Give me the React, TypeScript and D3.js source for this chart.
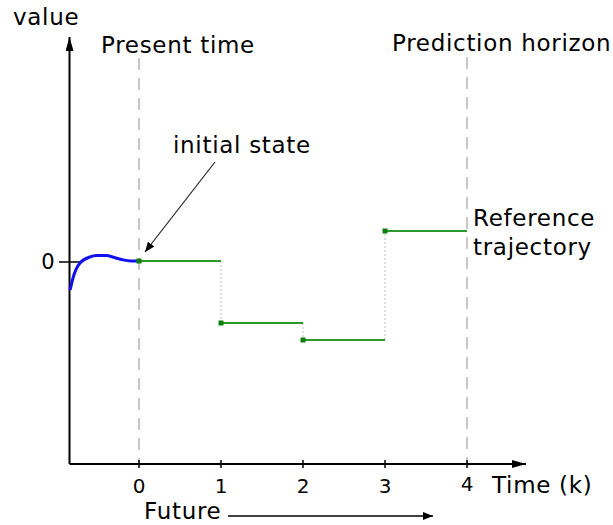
import React from "react";
import * as d3 from "d3";

const W = 613;
const H = 525;

// Time ticks (k)
const timeTicks = [0, 1, 2, 3, 4];
// Reference trajectory (piecewise constant, one value per step k..k+1)
const refSteps = [0, 1, 2, 3];
const refValues = [0, -0.62, -0.79, 0.3];
// Past output (blue) sampled points: time k, value
const pastTimes = [-0.84, -0.805, -0.72, -0.6, -0.52, -0.4, -0.3, -0.2, -0.1, 0];
const pastValues = [-0.29, -0.17, -0.02, 0.04, 0.055, 0.055, 0.035, 0.012, 0.0, 0];

const FONT = "'DejaVu Sans', Verdana, sans-serif";

export default function App() {
  const x = d3.scaleLinear().domain([0, 4]).range([139, 467]);
  const y = d3.scaleLinear().domain([0, 1]).range([261, 161]);

  const x0 = 69.5; // y axis position
  const yAxisTop = 37;
  const xAxisY = 464;
  const xAxisEnd = 526;

  const pastLine = d3
    .line<number>()
    .x((_, i) => x(pastTimes[i]))
    .y((_, i) => y(pastValues[i]))
    .curve(d3.curveMonotoneX);

  const green = "#2b982b";
  const gridGray = "#c8c8c8";
  const ls = 0.7;

  return (
    <svg width={W} height={H} style={{ position: "absolute", left: 0, top: 0 }} fontFamily={FONT}>
      <defs>
        <marker id="arrowBig" viewBox="0 0 14 8" refX="14" refY="4" markerWidth="14" markerHeight="8" markerUnits="userSpaceOnUse" orient="auto">
          <path d="M0,0 L14,4 L0,8 Z" fill="#000" />
        </marker>
        <marker id="arrowSmall" viewBox="0 0 10 8" refX="10" refY="4" markerWidth="10" markerHeight="8" markerUnits="userSpaceOnUse" orient="auto">
          <path d="M0,0 L10,4 L0,8 Z" fill="#000" />
        </marker>
      </defs>
      <rect width={W} height={H} fill="#fff" />

      {/* dashed vertical lines: present time and prediction horizon */}
      <line x1={x(0)} x2={x(0)} y1={58} y2={xAxisY} stroke={gridGray} strokeWidth={2} strokeDasharray="12,8" />
      <line x1={x(4)} x2={x(4)} y1={57} y2={xAxisY} stroke={gridGray} strokeWidth={2} strokeDasharray="12,8" />

      {/* axes */}
      <line x1={x0} x2={x0} y1={xAxisY} y2={yAxisTop} stroke="#000" strokeWidth={2} markerEnd="url(#arrowBig)" />
      <line x1={x0} x2={xAxisEnd} y1={xAxisY} y2={xAxisY} stroke="#000" strokeWidth={2} markerEnd="url(#arrowBig)" />

      {/* y tick at 0 */}
      <line x1={59} x2={80} y1={y(0) + 1} y2={y(0) + 1} stroke="#000" strokeWidth={1.5} />
      <text x={48} y={y(0) + 1} fontSize={21} textAnchor="middle" dominantBaseline="central">0</text>

      {/* x ticks */}
      {timeTicks.map((t) => (
        <g key={t}>
          <line x1={x(t)} x2={x(t)} y1={xAxisY - 4} y2={xAxisY + 4} stroke="#000" strokeWidth={1.5} />
          <text x={x(t)} y={t === 4 ? 491 : 493} fontSize={20} textAnchor="middle">{t}</text>
        </g>
      ))}

      {/* dotted vertical connectors */}
      {refSteps.slice(1).map((k, i) => (
        <line key={k} x1={x(k)} x2={x(k)} y1={y(refValues[i])} y2={y(refValues[i + 1])} stroke="#bbb" strokeWidth={1} strokeDasharray="2,2" />
      ))}

      {/* reference trajectory */}
      {refSteps.map((k, i) => (
        <line key={k} x1={x(k)} x2={x(k + 1)} y1={y(refValues[i])} y2={y(refValues[i])} stroke={green} strokeWidth={2} />
      ))}

      {/* past output */}
      <path d={pastLine(pastTimes) || ""} fill="none" stroke="#1010f0" strokeWidth={3} />

      {/* markers */}
      {refSteps.map((k, i) => (
        <rect key={k} x={x(k) - 2.5} y={y(refValues[i]) - 2.5} width={5} height={5} fill="#0d800d" />
      ))}

      {/* initial state arrow */}
      <line x1={215} y1={162} x2={145} y2={252} stroke="#222" strokeWidth={1.2} markerEnd="url(#arrowSmall)" />

      {/* labels */}
      <g letterSpacing={ls}>
        <text x={13} y={25} fontSize={23}>value</text>
        <text x={101} y={53} fontSize={23}>Present time</text>
        <text x={392} y={51} fontSize={23}>Prediction horizon</text>
        <text x={173} y={153} fontSize={23}>initial state</text>
        <text x={473} y={226} fontSize={23}>Reference</text>
        <text x={473} y={255} fontSize={23}>trajectory</text>
        <text x={492} y={493} fontSize={23}>Time (k)</text>
        <text x={144} y={519} fontSize={23}>Future</text>
      </g>
      <line x1={228} x2={433} y1={516} y2={516} stroke="#000" strokeWidth={1.5} markerEnd="url(#arrowSmall)" />
    </svg>
  );
}
